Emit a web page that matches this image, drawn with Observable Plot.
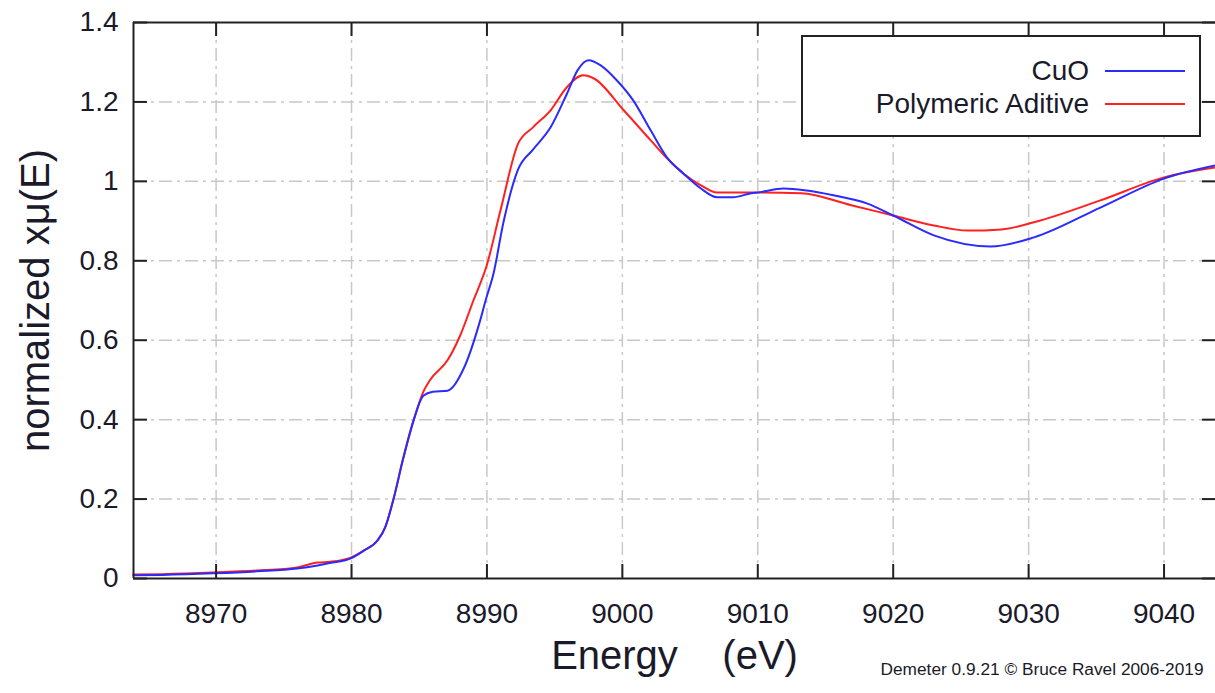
<!DOCTYPE html>
<html>
<head>
<meta charset="utf-8">
<script src="https://cdn.jsdelivr.net/npm/d3@7"></script>
<script src="https://cdn.jsdelivr.net/npm/@observablehq/plot@0.6"></script>
<style>
  html, body { margin: 0; padding: 0; background: #fff; overflow: hidden; }
  #wrap { position: relative; width: 1215px; height: 693px; font-family: "Liberation Sans", Arial, sans-serif; color: #1a1a2a; }
  #legend { position: absolute; left: 801px; top: 35px; width: 396px; height: 98px; border: 2px solid #222; background: #fff; }
  .lrow { position: absolute; left: 0; width: 396px; height: 30px; }
  .lrow span { position: absolute; right: 110px; top: 0; font-size: 28px; line-height: 30px; white-space: nowrap; }
  .lrow i { position: absolute; left: 302px; width: 80px; top: 14px; height: 2px; }
</style>
</head>
<body>
<div id="wrap"></div>
<script>
// Energy (eV) and normalized x-mu(E) values
const cuoE = [8963.9, 8966, 8969.8, 8973, 8976, 8977.5, 8978.4, 8979.9, 8980.9, 8981.9, 8982.5, 8983.1, 8983.8, 8984.6, 8985.3, 8986, 8987.1, 8988.3, 8989.5, 8989.9, 8990.5, 8991.2, 8992.3, 8993.4, 8994.7, 8995.9, 8996.7, 8997.5, 8998.4, 8999.6, 9000.8, 9002.1, 9003.3, 9004.5, 9005.8, 9007.0, 9008.2, 9009.5, 9010, 9011.9, 9015.6, 9018.1, 9020, 9023, 9027.2, 9030.4, 9035.3, 9040, 9043.8];
const cuoMu = [0.008, 0.009, 0.013, 0.018, 0.025, 0.033, 0.039, 0.05, 0.07, 0.095, 0.13, 0.20, 0.30, 0.40, 0.46, 0.47, 0.473, 0.53, 0.65, 0.70, 0.77, 0.894, 1.03, 1.08, 1.136, 1.22, 1.28, 1.305, 1.292, 1.254, 1.204, 1.128, 1.06, 1.02, 0.982, 0.96, 0.96, 0.97, 0.972, 0.982, 0.965, 0.944, 0.914, 0.864, 0.836, 0.859, 0.934, 1.007, 1.04];

const polyE = [8963.9, 8966, 8969.8, 8973, 8976, 8977.5, 8978.4, 8979.9, 8980.9, 8981.9, 8982.5, 8983.1, 8983.8, 8984.6, 8985.3, 8985.8, 8987.1, 8988.0, 8989.0, 8990.0, 8991.0, 8992.3, 8993.4, 8994.7, 8995.9, 8997.1, 8997.9, 9000.1, 9002.1, 9003.3, 9004.5, 9005.8, 9007.0, 9009.5, 9013.2, 9016.9, 9020, 9023, 9025.5, 9028, 9030.4, 9035.3, 9040, 9043.8];
const polyMu = [0.01, 0.011, 0.015, 0.02, 0.028, 0.04, 0.042, 0.052, 0.07, 0.095, 0.13, 0.20, 0.30, 0.40, 0.47, 0.50, 0.55, 0.61, 0.70, 0.79, 0.927, 1.095, 1.136, 1.179, 1.237, 1.267, 1.259, 1.179, 1.103, 1.058, 1.02, 0.99, 0.972, 0.972, 0.970, 0.94, 0.914, 0.889, 0.876, 0.879, 0.897, 0.952, 1.01, 1.035];

const seriesNames = ["CuO", "Polymeric Aditive"];
const seriesColors = ["#2b2bff", "#ff2020"];
const xTicks = [8970, 8980, 8990, 9000, 9010, 9020, 9030, 9040];
const yTicks = [0, 0.2, 0.4, 0.6, 0.8, 1, 1.2, 1.4];
const xDomain = [8963.9, 9043.8];
const yDomain = [0, 1.4];
const xTitle = "Energy    (eV)";
const yTitle = "normalized xμ(E)";
const credit = "Demeter 0.9.21 © Bruce Ravel 2006-2019";

const cuo = cuoE.map((e, i) => ({E: e, mu: cuoMu[i]}));
const poly = polyE.map((e, i) => ({E: e, mu: polyMu[i]}));
const innerGridX = xTicks;
const innerGridY = yTicks.filter(v => v > yDomain[0] && v < yDomain[1]);

const W = 1215, H = 693, mL = 133, mR = 0, mT = 22, mB = 115;
const innerW = W - mL - mR, innerH = H - mT - mB;
const gridStyle = {stroke: "#c8c8c8", strokeWidth: 1.5, strokeDasharray: "13,5,3,5"};
const ink = "#1a1a2a";

const chart = Plot.plot({
  width: W, height: H,
  marginLeft: mL, marginRight: mR, marginTop: mT, marginBottom: mB,
  style: {fontFamily: "'Liberation Sans', Arial, sans-serif", fontSize: "28px", color: ink, background: "white", overflow: "hidden"},
  x: {domain: xDomain, ticks: xTicks, tickSize: 0, tickPadding: 25, label: null, tickFormat: d => String(d)},
  y: {domain: yDomain, ticks: yTicks, tickSize: 0, tickPadding: 15, label: null, tickFormat: d => String(+d.toFixed(1))},
  marks: [
    Plot.ruleX(innerGridX, {x: d => d, ...gridStyle}),
    Plot.ruleY(innerGridY, {y: d => d, ...gridStyle}),
    Plot.line(poly, {x: "E", y: "mu", stroke: seriesColors[1], strokeWidth: 2, curve: "monotone-x"}),
    Plot.line(cuo, {x: "E", y: "mu", stroke: seriesColors[0], strokeWidth: 2, curve: "monotone-x"}),
    // inward ticks: bottom, top, left, right
    Plot.tickX(xTicks, {x: d => d, stroke: "#222", strokeWidth: 2, insetTop: innerH - 14}),
    Plot.tickX(xTicks, {x: d => d, stroke: "#222", strokeWidth: 2, insetBottom: innerH - 14}),
    Plot.tickY(yTicks, {y: d => d, stroke: "#222", strokeWidth: 2, insetRight: innerW - 14}),
    Plot.tickY(yTicks, {y: d => d, stroke: "#222", strokeWidth: 2, insetLeft: innerW - 13}),
    // frame (left, top, bottom)
    Plot.ruleX([xDomain[0]], {x: d => d, stroke: "#222", strokeWidth: 2}),
    Plot.ruleY(yDomain, {y: d => d, stroke: "#222", strokeWidth: 2}),
    // axis titles
    Plot.text([xTitle], {text: d => d, frameAnchor: "bottom", dy: 90, fontSize: 40, fill: ink}),
    Plot.text([yTitle], {text: d => d, frameAnchor: "left", textAnchor: "middle", dx: -97, rotate: -90, fontSize: 40, fill: ink}),
    Plot.text([credit], {text: d => d, frameAnchor: "bottom-left", dx: 747, dy: 96, textAnchor: "start", fontSize: 17.3, fill: ink})
  ]
});
document.getElementById("wrap").appendChild(chart);
chart.querySelectorAll("text").forEach(t => { t.setAttribute("xml:space", "preserve"); t.style.whiteSpace = "pre"; });

// legend
const legend = document.createElement("div");
legend.id = "legend";
seriesNames.forEach((name, i) => {
  const row = document.createElement("div");
  row.className = "lrow";
  row.style.top = (19 + i * 33) + "px";
  const s = document.createElement("span");
  s.textContent = name;
  const l = document.createElement("i");
  l.style.background = seriesColors[i];
  row.appendChild(s); row.appendChild(l);
  legend.appendChild(row);
});
document.getElementById("wrap").appendChild(legend);
</script>
</body>
</html>
